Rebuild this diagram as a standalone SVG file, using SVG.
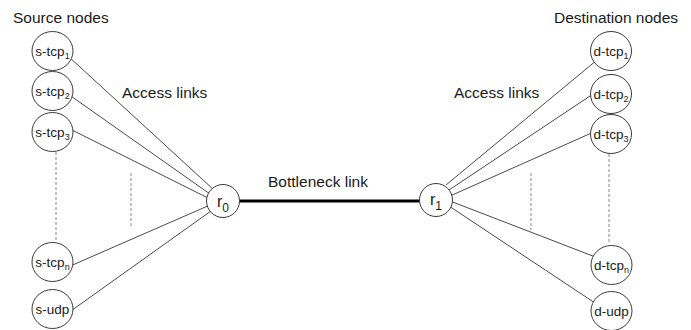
<svg xmlns="http://www.w3.org/2000/svg" width="691" height="330" viewBox="0 0 691 330">
<style>
  .bg { fill: #ffffff; }
  .node { fill: #ffffff; stroke: #3a3a3a; stroke-width: 1; }
  .link { stroke: #4a4a4a; stroke-width: 1; fill: none; }
  .bottleneck { stroke: #000000; stroke-width: 3; fill: none; }
  .dash { stroke: #8a8a8a; stroke-width: 1; stroke-dasharray: 3 2; fill: none; }
  .title { font-family: "Liberation Sans", Arial, sans-serif; font-size: 15.5px; fill: #1a1a1a; }
  .lbl { font-family: "Liberation Sans", Arial, sans-serif; font-size: 13.5px; fill: #1a1a1a; text-anchor: middle; }
  .sub { font-size: 9px; }
  .rl { font-family: "Liberation Sans", Arial, sans-serif; font-size: 16px; fill: #1a1a1a; text-anchor: middle; }
  .rsub { font-size: 12px; }
</style>
<rect class="bg" x="0" y="0" width="691" height="330"/>
<g id="connectors">
  <line class="link" x1="68" y1="56" x2="214" y2="190"/>
  <line class="link" x1="68" y1="94" x2="210" y2="194"/>
  <line class="link" x1="68" y1="128" x2="210" y2="199"/>
  <line class="link" x1="68" y1="267" x2="210" y2="205"/>
  <line class="link" x1="68" y1="313" x2="211" y2="211"/>
  <line class="link" x1="597" y1="60" x2="446" y2="185"/>
  <line class="link" x1="596" y1="92" x2="449" y2="190"/>
  <line class="link" x1="596" y1="131" x2="450" y2="196"/>
  <line class="link" x1="598" y1="258" x2="450" y2="201"/>
  <line class="link" x1="598" y1="305" x2="449" y2="206"/>
  <line class="bottleneck" x1="239" y1="201" x2="420" y2="201"/>
  <line class="dash" x1="56" y1="152" x2="56" y2="241"/>
  <line class="dash" x1="131" y1="173" x2="131" y2="228"/>
  <line class="dash" x1="609" y1="154" x2="609" y2="244"/>
  <line class="dash" x1="531" y1="173" x2="531" y2="230"/>
</g>
<g id="s-tcp1"><ellipse class="node" cx="52.5" cy="51" rx="20.5" ry="19.5"/><text class="lbl" x="52.5" y="55.5">s-tcp<tspan class="sub" dy="3.5">1</tspan></text></g>
<g id="s-tcp2"><ellipse class="node" cx="52.5" cy="91" rx="20.5" ry="19.5"/><text class="lbl" x="52.5" y="95.5">s-tcp<tspan class="sub" dy="3.5">2</tspan></text></g>
<g id="s-tcp3"><ellipse class="node" cx="52.5" cy="132" rx="20.5" ry="19.5"/><text class="lbl" x="52.5" y="136.5">s-tcp<tspan class="sub" dy="3.5">3</tspan></text></g>
<g id="s-tcpn"><ellipse class="node" cx="52.5" cy="262" rx="20.5" ry="19.5"/><text class="lbl" x="52.5" y="266.5">s-tcp<tspan class="sub" dy="3.5">n</tspan></text></g>
<g id="s-udp"><ellipse class="node" cx="52.5" cy="309" rx="20.5" ry="19.5"/><text class="lbl" x="52.5" y="313.5">s-udp</text></g>
<g id="r0"><circle class="node" cx="223" cy="201" r="16.5"/><text class="rl" x="223" y="206.5">r<tspan class="rsub" dy="5">0</tspan></text></g>
<g id="r1"><circle class="node" cx="436" cy="200" r="16.5"/><text class="rl" x="436" y="205">r<tspan class="rsub" dy="4.5">1</tspan></text></g>
<g id="d-tcp1"><ellipse class="node" cx="611" cy="51" rx="20.5" ry="19.5"/><text class="lbl" x="611" y="55.5">d-tcp<tspan class="sub" dy="3.5">1</tspan></text></g>
<g id="d-tcp2"><ellipse class="node" cx="611" cy="94" rx="20.5" ry="19.5"/><text class="lbl" x="611" y="98.5">d-tcp<tspan class="sub" dy="3.5">2</tspan></text></g>
<g id="d-tcp3"><ellipse class="node" cx="611" cy="134" rx="20.5" ry="19.5"/><text class="lbl" x="611" y="138.5">d-tcp<tspan class="sub" dy="3.5">3</tspan></text></g>
<g id="d-tcpn"><ellipse class="node" cx="611.5" cy="265" rx="20.5" ry="19.5"/><text class="lbl" x="611.5" y="269.5">d-tcp<tspan class="sub" dy="3.5">n</tspan></text></g>
<g id="d-udp"><ellipse class="node" cx="611.5" cy="311" rx="20.5" ry="19.5"/><text class="lbl" x="611.5" y="315.5">d-udp</text></g>
<g id="labels">
  <text class="title" x="13" y="23">Source nodes</text>
  <text class="title" x="554" y="23">Destination nodes</text>
  <text class="title" x="122" y="98">Access links</text>
  <text class="title" x="454" y="98">Access links</text>
  <text class="title" x="268" y="187">Bottleneck link</text>
</g>
</svg>
